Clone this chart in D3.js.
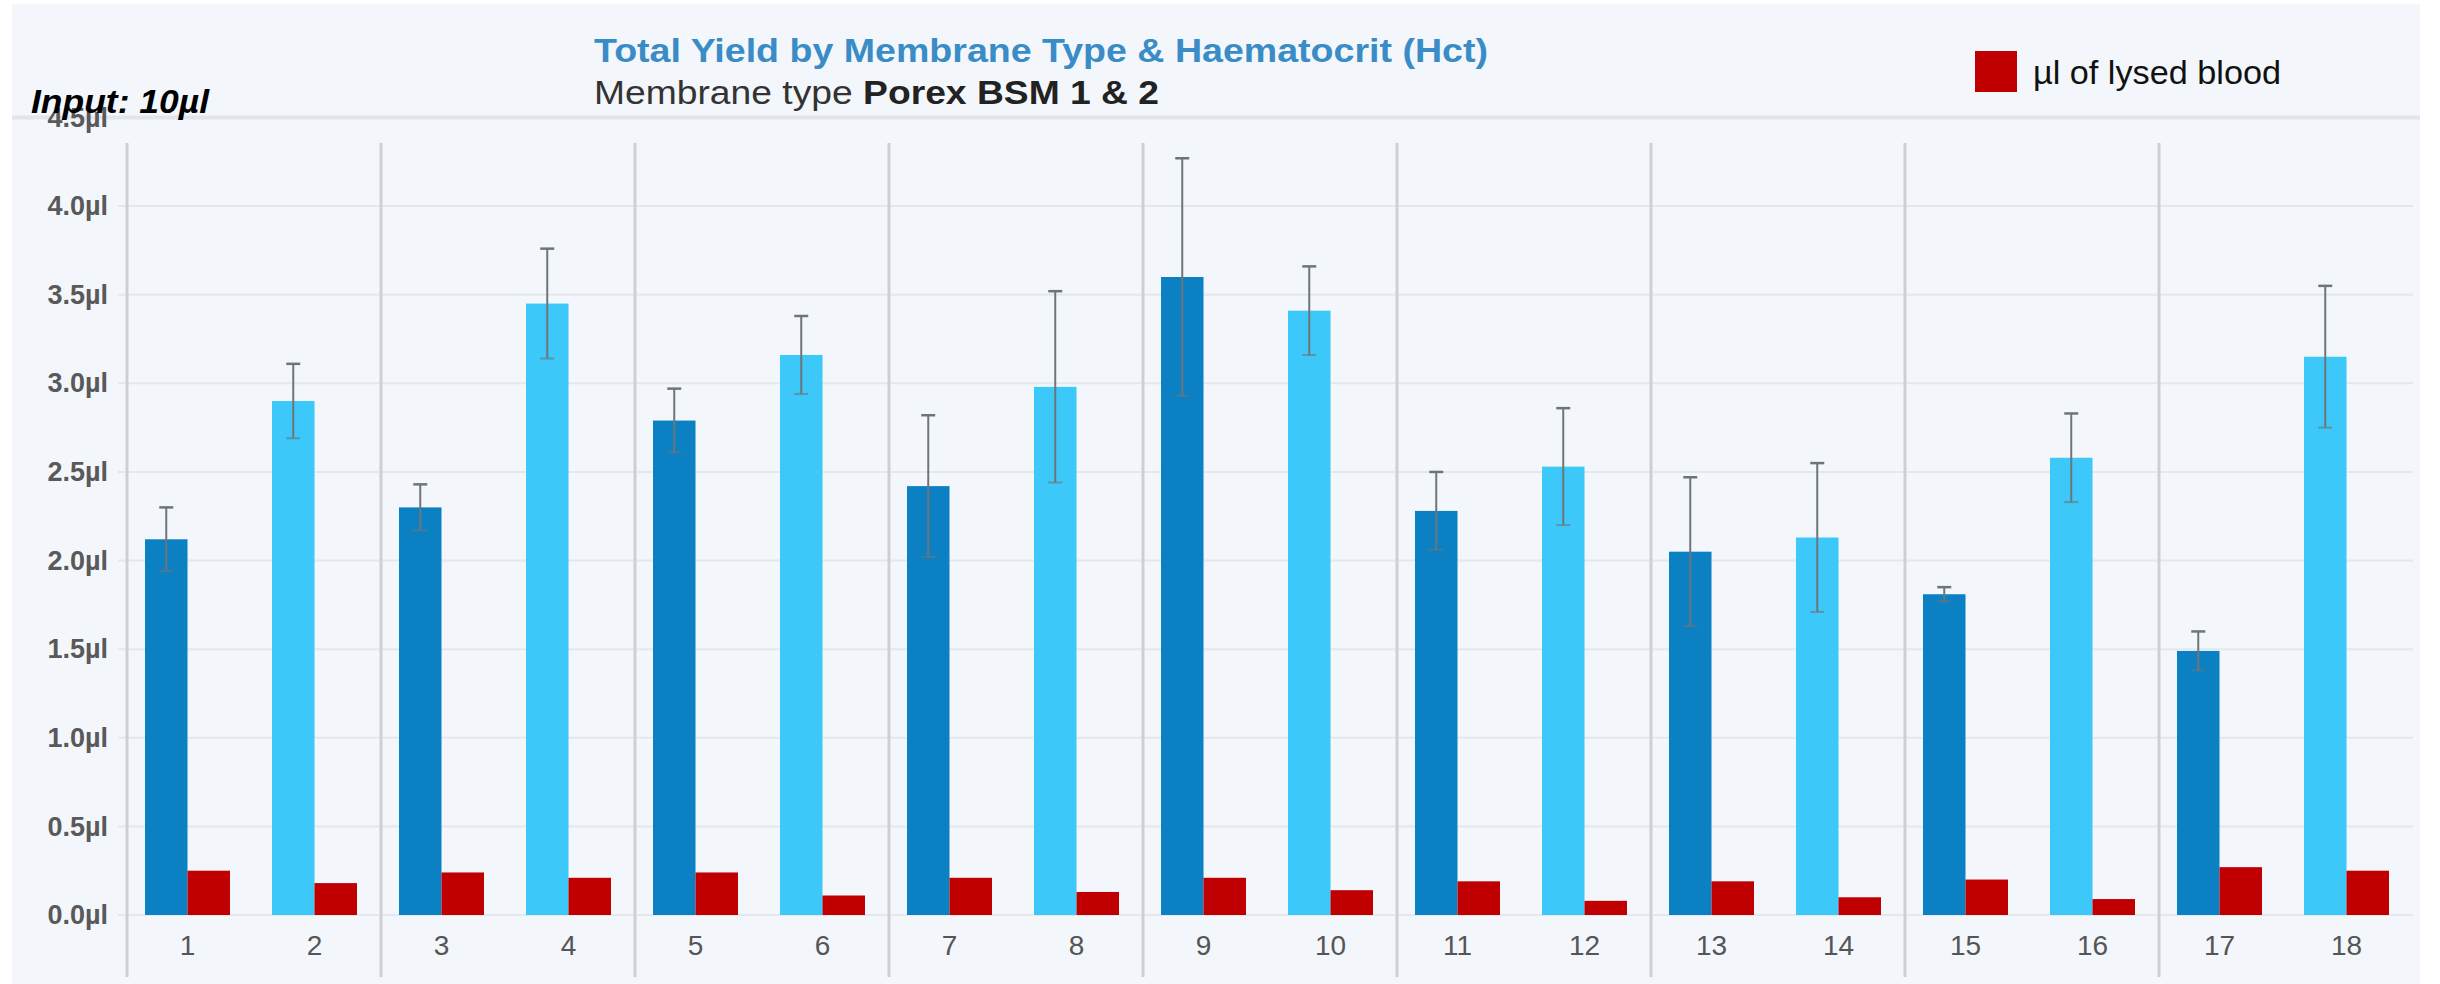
<!DOCTYPE html>
<html>
<head>
<meta charset="utf-8">
<script src="https://cdn.jsdelivr.net/npm/d3@7"></script>
<style>
  html, body { margin: 0; padding: 0; background: #ffffff; }
  svg { display: block; }
  text { font-family: "Liberation Sans", Arial, Helvetica, sans-serif; }
</style>
</head>
<body>
<script>
// ---- data ----
const categories = ["1","2","3","4","5","6","7","8","9","10","11","12","13","14","15","16","17","18"];
const membrane   = ["BSM 1","BSM 2","BSM 1","BSM 2","BSM 1","BSM 2","BSM 1","BSM 2","BSM 1","BSM 2","BSM 1","BSM 2","BSM 1","BSM 2","BSM 1","BSM 2","BSM 1","BSM 2"];
const yieldValues = [2.12, 2.90, 2.30, 3.45, 2.79, 3.16, 2.42, 2.98, 3.60, 3.41, 2.28, 2.53, 2.05, 2.13, 1.81, 2.58, 1.49, 3.15];
const yieldError  = [0.18, 0.21, 0.13, 0.31, 0.18, 0.22, 0.40, 0.54, 0.67, 0.25, 0.22, 0.33, 0.42, 0.42, 0.04, 0.25, 0.11, 0.40];
const lysedValues = [0.25, 0.18, 0.24, 0.21, 0.24, 0.11, 0.21, 0.13, 0.21, 0.14, 0.19, 0.08, 0.19, 0.10, 0.20, 0.09, 0.27, 0.25];
const yTicks = [0, 0.5, 1.0, 1.5, 2.0, 2.5, 3.0, 3.5, 4.0, 4.5];
const seriesKeys = ["yield", "lysed"];
const legendLabel = "µl of lysed blood";
const titleText = "Total Yield by Membrane Type & Haematocrit (Hct)";
const subtitleNormal = "Membrane type ";
const subtitleBold = "Porex BSM 1 & 2";
const inputNote = "Input: 10µl";

// ---- layout ----
const W = 2440, H = 984;
const plot = { left: 127, right: 2413, top: 117.5, bottom: 915 };

const svg = d3.select("body").append("svg").attr("width", W).attr("height", H);

// panel
svg.append("rect").attr("x", 12).attr("y", 4).attr("width", 2408).attr("height", H - 4)
  .attr("fill", "#f3f7fb");

const x = d3.scaleBand().domain(categories).range([plot.left, plot.right]).paddingInner(0).paddingOuter(0);
const xs = d3.scaleBand().domain(seriesKeys).range([0, x.bandwidth()]).paddingInner(0).paddingOuter(0.494);
const y = d3.scaleLinear().domain([0, 4.5]).range([plot.bottom, plot.top]);
const color = d3.scaleOrdinal().domain(["BSM 1","BSM 2"]).range(["#0b81c4", "#3cc8f8"]);
const red = "#c00000";

// horizontal gridlines
svg.append("g").selectAll("line").data(yTicks).join("line")
  .attr("x1", d => d === 4.5 ? 12 : 118).attr("x2", d => d === 4.5 ? 2420 : plot.right)
  .attr("y1", d => y(d)).attr("y2", d => y(d))
  .attr("stroke", d => d === 4.5 ? "#e1e5ea" : "#e4e8ec")
  .attr("stroke-width", d => d === 4.5 ? 4 : 2);

// group separators (every second category)
const sepCats = categories.filter((c, i) => i % 2 === 0);
svg.append("g").selectAll("line").data(sepCats).join("line")
  .attr("x1", d => x(d)).attr("x2", d => x(d))
  .attr("y1", 143).attr("y2", 977)
  .attr("stroke", "#cdd0d3").attr("stroke-width", 3);

// y axis labels
const yAxis = d3.axisLeft(y).tickValues(yTicks).tickSize(0).tickPadding(0)
  .tickFormat(d => d3.format(".1f")(d) + "µl");
const ya = svg.append("g").attr("transform", `translate(108,0)`).call(yAxis);
ya.select(".domain").remove();
ya.selectAll("text").attr("font-size", 27).attr("font-weight", "bold").attr("fill", "#595959")
  .attr("font-family", "'Liberation Sans', Arial, sans-serif");

// x axis labels
const xAxis = d3.axisBottom(x).tickSize(0).tickPadding(0);
const xa = svg.append("g").attr("transform", `translate(-3,${plot.bottom + 20})`).call(xAxis);
xa.select(".domain").remove();
xa.selectAll("text").attr("font-size", 28).attr("fill", "#555")
  .attr("font-family", "'Liberation Sans', Arial, sans-serif");

// bars
const rows = categories.map((c, i) => ({ cat: c, mem: membrane[i], yield: yieldValues[i], err: yieldError[i], lysed: lysedValues[i] }));
const g = svg.append("g").attr("transform", "translate(-3,0)");
const cg = g.selectAll("g.cat").data(rows).join("g").attr("class", "cat")
  .attr("transform", d => `translate(${x(d.cat)},0)`);

cg.append("rect")
  .attr("x", xs("yield")).attr("width", xs.bandwidth())
  .attr("y", d => y(d.yield)).attr("height", d => y(0) - y(d.yield))
  .attr("fill", d => color(d.mem));

cg.append("rect")
  .attr("x", xs("lysed")).attr("width", xs.bandwidth())
  .attr("y", d => y(d.lysed)).attr("height", d => y(0) - y(d.lysed))
  .attr("fill", red);

// error bars on yield
const ex = xs("yield") + xs.bandwidth() / 2;
cg.append("line")
  .attr("x1", ex).attr("x2", ex)
  .attr("y1", d => y(d.yield + d.err)).attr("y2", d => y(d.yield - d.err))
  .attr("stroke", "#6f7478").attr("stroke-width", 2);
cg.append("line")
  .attr("x1", ex - 7).attr("x2", ex + 7)
  .attr("y1", d => y(d.yield + d.err)).attr("y2", d => y(d.yield + d.err))
  .attr("stroke", "#6f7478").attr("stroke-width", 2.5);
cg.append("line")
  .attr("x1", ex - 7).attr("x2", ex + 7)
  .attr("y1", d => y(d.yield - d.err)).attr("y2", d => y(d.yield - d.err))
  .attr("stroke", "#6f7478").attr("stroke-width", 2).attr("opacity", 0.6);

// title
svg.append("text").attr("x", 594).attr("y", 62)
  .attr("font-size", 34).attr("font-weight", "bold").attr("fill", "#3a8cc6")
  .attr("textLength", 894).attr("lengthAdjust", "spacingAndGlyphs")
  .text(titleText);

const sub = svg.append("text").attr("x", 594).attr("y", 104)
  .attr("font-size", 33).attr("fill", "#333")
  .attr("textLength", 565).attr("lengthAdjust", "spacingAndGlyphs");
sub.append("tspan").text(subtitleNormal);
sub.append("tspan").attr("font-weight", "bold").attr("fill", "#222").text(subtitleBold);

// input note
svg.append("text").attr("x", 31).attr("y", 113)
  .attr("font-size", 34).attr("font-weight", "bold").attr("font-style", "italic").attr("fill", "#000")
  .attr("textLength", 178).attr("lengthAdjust", "spacingAndGlyphs")
  .text(inputNote);

// legend
svg.append("rect").attr("x", 1975).attr("y", 51).attr("width", 42).attr("height", 41).attr("fill", red);
svg.append("text").attr("x", 2033).attr("y", 84)
  .attr("font-size", 33).attr("fill", "#111")
  .attr("textLength", 248).attr("lengthAdjust", "spacingAndGlyphs")
  .text(legendLabel);
</script>
</body>
</html>
